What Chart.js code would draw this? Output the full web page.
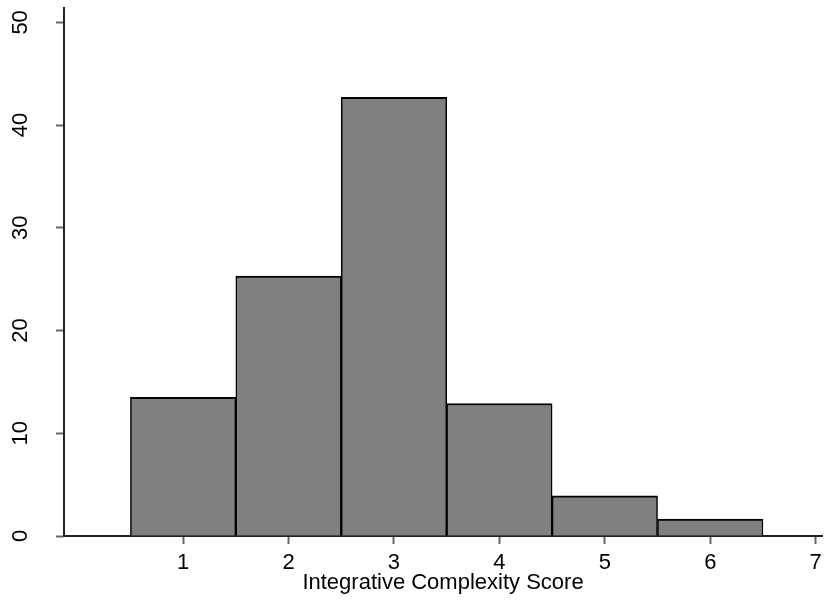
<!DOCTYPE html>
<html>
<head>
<meta charset="utf-8">
<script src="https://cdn.jsdelivr.net/npm/chart.js@4.4.0/dist/chart.umd.min.js"></script>
<style>
  html, body { margin: 0; padding: 0; background: #fff; }
  #wrap { width: 825px; height: 601px; }
</style>
</head>
<body>
<div id="wrap"><canvas id="hist"></canvas></div>
<script>
"use strict";

// histogram data
let scores = [1, 2, 3, 4, 5, 6];
let percents = [13.5, 25.3, 42.7, 12.9, 3.9, 1.65];
let xTicks = [1, 2, 3, 4, 5, 6, 7];
let yTicks = [0, 10, 20, 30, 40, 50];

let points = scores.map((s, i) => ({ x: s, y: percents[i] }));

let font = { family: "'Liberation Sans', Arial, sans-serif", size: 22 };

let chart = document.querySelector("#hist");
let myHistogram = new Chart(chart, {
  type: "bar",
  data: {
    datasets: [{
      data: points,
      backgroundColor: "#808080",
      borderColor: "#000",
      borderWidth: { top: 2, left: 1.5, right: 1.5, bottom: 0 },
      borderSkipped: false,
      barPercentage: 1,
      categoryPercentage: 1
    }]
  },
  options: {
    responsive: true,
    maintainAspectRatio: false,
    animation: false,
    layout: { padding: { top: 8, right: 3, left: 0, bottom: 0 } },
    plugins: { legend: { display: false }, tooltip: { enabled: false } },
    scales: {
      x: {
        type: "linear",
        min: -0.13,
        max: 7.06,
        offset: false,
        afterBuildTicks: scale => {
          scale.ticks = xTicks.map(v => ({ value: v }));
        },
        afterFit: scale => {
          scale.height = 65;
          scale.paddingLeft = 0;
          scale.paddingRight = 0;
        },
        ticks: { font: font, color: "#000", padding: 6, includeBounds: false, maxRotation: 0 },
        grid: { offset: false, drawOnChartArea: false, drawTicks: true, tickLength: 8, tickColor: "#666", tickWidth: 2 },
        border: { display: true, color: "#222", width: 2 },
        title: { display: true, text: "Integrative Complexity Score", font: font, color: "#000", padding: { top: 0, bottom: 5 } }
      },
      y: {
        min: 0,
        max: 51.4,
        afterBuildTicks: scale => {
          scale.ticks = yTicks.map(v => ({ value: v }));
        },
        afterFit: scale => {
          scale.width = 64;
          scale.paddingTop = 0;
          scale.paddingBottom = 0;
        },
        ticks: { font: font, color: "#000", padding: 23, minRotation: 90, maxRotation: 90, crossAlign: "center", includeBounds: false },
        grid: { drawOnChartArea: false, drawTicks: true, tickLength: 8, tickColor: "#666", tickWidth: 2 },
        border: { display: true, color: "#222", width: 2 }
      }
    }
  }
});
</script>
</body>
</html>
